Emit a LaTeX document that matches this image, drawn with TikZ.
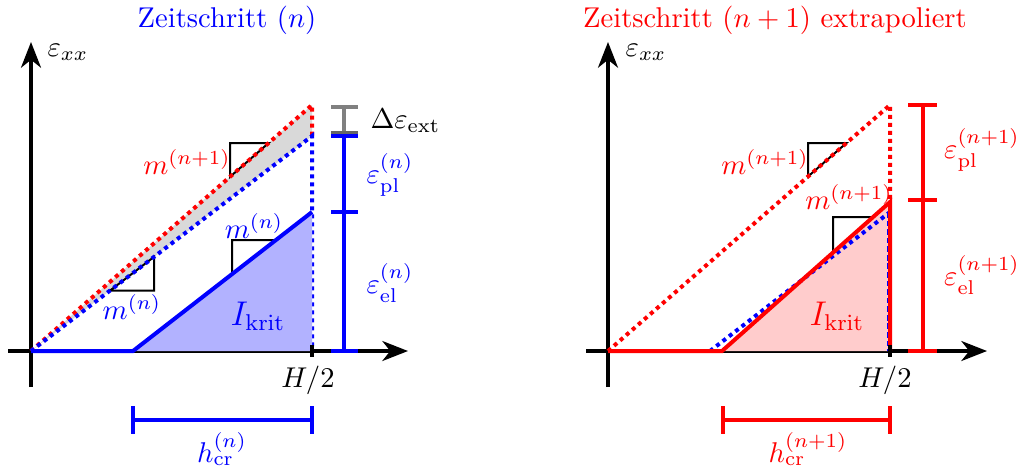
\documentclass[tikz,border=0pt]{standalone}
\usetikzlibrary{arrows.meta}
\begin{document}
\begin{tikzpicture}[x=0.0123cm,y=-0.0123cm,
  axis/.style={line width=1.2pt,-{Stealth[length=9pt,width=7pt,inset=2.8pt]}},
  thk/.style={line width=1.4pt},
  dots/.style={line width=1.4pt,dash pattern=on 1.4pt off 1.4pt},
  slope/.style={line width=0.7pt},
  lbl/.style={inner sep=0pt}]
\useasboundingbox (0,0) rectangle (1017,469);
% ---------- left panel ----------
\coordinate (O1) at (31,351);
\coordinate (A1) at (312,105);
\coordinate (B1) at (312,136);
\coordinate (C1) at (133,351);
\coordinate (D1) at (312,212);
\coordinate (E1) at (312,351);
\fill[gray!30] (O1) -- (A1) -- (B1) -- cycle;
\draw[slope] (230,176.8) -- (230,143) -- (268.6,143) -- cycle;
\draw[slope] (110,290.6) -- (154,290.6) -- (154,256.9) -- cycle;
\draw[slope] (232,274.1) -- (232,240) -- (276,240) -- cycle;
\coordinate (yb1) at (31,387); \coordinate (yt1) at (31,42);
\coordinate (xl1) at (8,351); \coordinate (xr1) at (408,351);
\draw[axis] (yb1) -- (yt1);
\draw[axis] (xl1) -- (xr1);
\draw[dots,red] (O1) -- (A1) -- (B1);
\draw[dots,blue] (O1) -- (B1) -- (E1);
\fill[blue!30] (C1) -- (D1) -- (E1) -- cycle;
\draw[thk,blue] (O1) -- (C1) -- (D1);
\draw[line width=1.2pt] (312,345) -- (312,357);
% bars
\draw[thk,gray] (344,107) -- (344,133);
\draw[thk,gray] (331,107) -- (358,107);
\draw[thk,gray!80!black] (331,133) -- (358,133);
\draw[thk,blue] (344,136) -- (344,351);
\foreach \yy in {136,212,351} \draw[thk,blue] (331,\yy) -- (358,\yy);
\draw[thk,blue] (133,420) -- (312,420);
\draw[thk,blue] (133,406) -- (133,434);
\draw[thk,blue] (312,406) -- (312,434);
% labels
\node[lbl,blue] (t1) at (227,20) {Zeitschritt $(n)$};
\node[lbl] (ex1) at (68,52) {$\varepsilon_{xx}$};
\node[lbl,anchor=west] (dext) at (370,121) {$\Delta\varepsilon_{\mathrm{ext}}$};
\node[lbl,blue] (epl1) at (390,175) {$\varepsilon_{\mathrm{pl}}^{(n)}$};
\node[lbl,blue] (eel1) at (390,283) {$\varepsilon_{\mathrm{el}}^{(n)}$};
\node[lbl,red] (m1a) at (187,162) {$m^{(n+1)}$};
\node[lbl,blue] (m1b) at (132,307) {$m^{(n)}$};
\node[lbl,blue] (m1c) at (254,226) {$m^{(n)}$};
\node[lbl,blue] (ik1) at (258,316) {\large $I_{\mathrm{krit}}$};
\node[lbl] (h1) at (308,380) {$H/2$};
\node[lbl,blue] (hc1) at (222,449) {$h_{\mathrm{cr}}^{(n)}$};
% ---------- right panel ----------
\coordinate (O2) at (608,351);
\coordinate (A2) at (890,105);
\coordinate (C2) at (722,351);
\coordinate (D2) at (890,202);
\coordinate (E2) at (890,351);
\coordinate (F2) at (710,351);
\coordinate (G2) at (890,212);
\draw[slope] (808,176.5) -- (808,143) -- (846.4,143) -- cycle;
\draw[slope] (833,252.6) -- (833,217) -- (873.1,217) -- cycle;
\coordinate (yb2) at (608,387); \coordinate (yt2) at (608,42);
\coordinate (xl2) at (586,351); \coordinate (xr2) at (987,351);
\draw[axis] (yb2) -- (yt2);
\draw[axis] (xl2) -- (xr2);
\draw[dots,red] (O2) -- (A2) -- (D2);
\fill[red!20] (C2) -- (D2) -- (E2) -- cycle;
\draw[dots,blue] (F2) -- (G2);
\draw[blue,line width=0.5pt,dash pattern=on 2pt off 1pt] (888,212) -- (888,351);
\draw[thk,red] (O2) -- (C2) -- (D2) -- (E2);
\draw[line width=1.2pt] (890,345) -- (890,357);
\draw[thk,red] (923,105) -- (923,351);
\foreach \yy in {105,200,351} \draw[thk,red] (908,\yy) -- (937,\yy);
\draw[thk,red] (723,420) -- (890,420);
\draw[thk,red] (723,406) -- (723,434);
\draw[thk,red] (890,406) -- (890,434);
\node[lbl,red] (t2) at (775,20) {Zeitschritt $(n+1)$ extrapoliert};
\node[lbl] (ex2) at (646,52) {$\varepsilon_{xx}$};
\node[lbl,red] (m2a) at (765,162) {$m^{(n+1)}$};
\node[lbl,red] (m2b) at (849,197) {$m^{(n+1)}$};
\node[lbl,red] (epl2) at (982,150) {$\varepsilon_{\mathrm{pl}}^{(n+1)}$};
\node[lbl,red] (eel2) at (982,275) {$\varepsilon_{\mathrm{el}}^{(n+1)}$};
\node[lbl,red] (ik2) at (837,316) {\large $I_{\mathrm{krit}}$};
\node[lbl] (h2) at (885,380) {$H/2$};
\node[lbl,red] (hc2) at (808,449) {$h_{\mathrm{cr}}^{(n+1)}$};
\end{tikzpicture}
\end{document}
